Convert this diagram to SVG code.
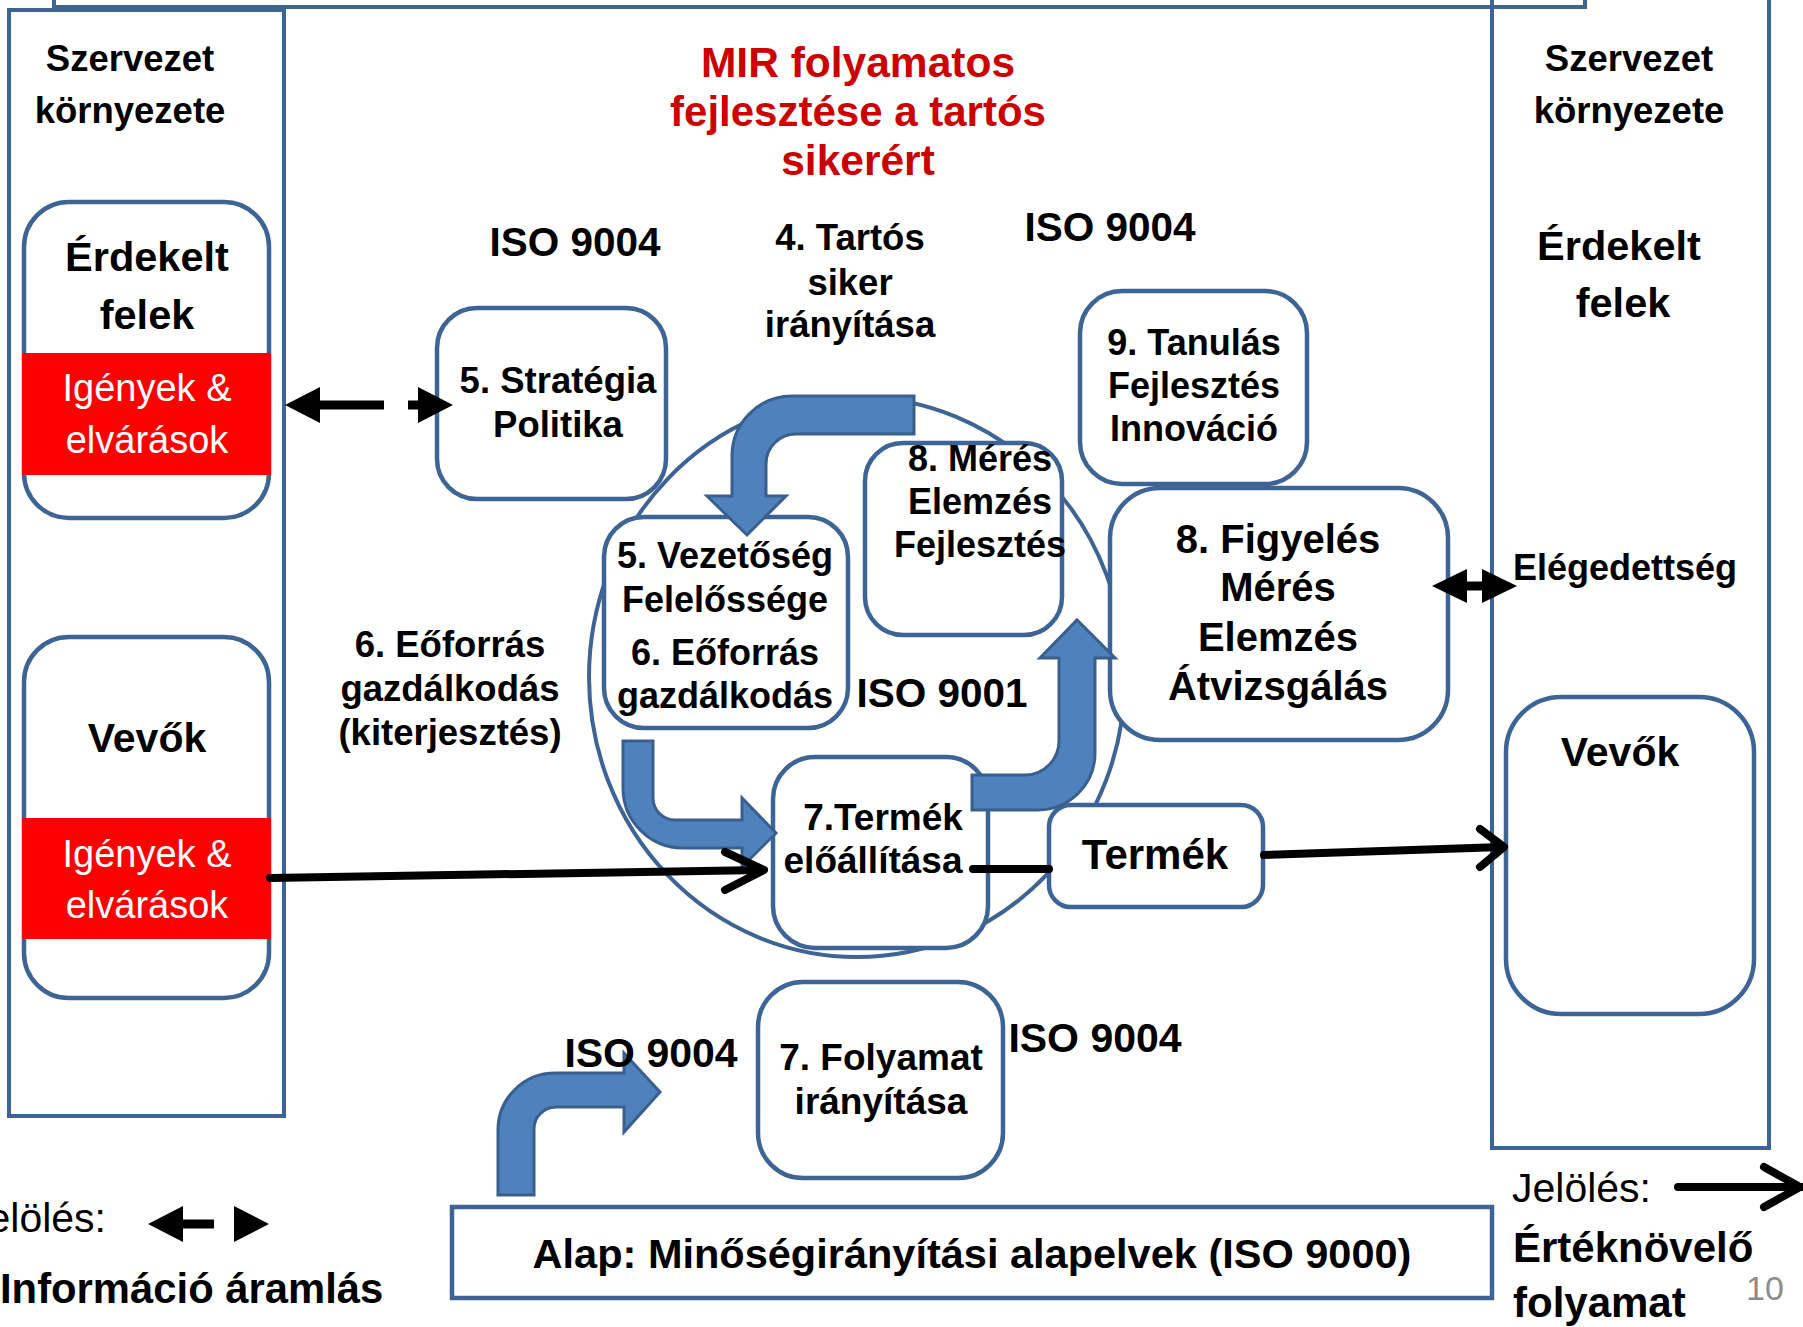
<svg xmlns="http://www.w3.org/2000/svg" width="1803" height="1327" viewBox="0 0 1803 1327">
<defs>
<style>
.t{font-family:"Liberation Sans",Arial,sans-serif;font-weight:bold;text-anchor:middle;fill:#000}
.r{font-family:"Liberation Sans",Arial,sans-serif;font-weight:normal;fill:#000}
.w{font-family:"Liberation Sans",Arial,sans-serif;font-weight:normal;text-anchor:middle;fill:#fff;font-size:38px}
.box{fill:#fff;stroke:#3E6496;stroke-width:4.5}
.panel{fill:none;stroke:#3E6496;stroke-width:4}
.blue{fill:#4F81BD;stroke:#3A5F8E;stroke-width:3;stroke-linejoin:miter}
.band{fill:#FF0000}
.info{stroke:#000;stroke-width:9;fill:none}
.flow{stroke:#000;stroke-width:8;fill:none;stroke-linecap:round;stroke-linejoin:round}
</style>
<marker id="tri" markerUnits="userSpaceOnUse" markerWidth="40" markerHeight="40" viewBox="0 -20 40 40" refX="0" refY="0" orient="auto-start-reverse">
<path d="M0,-18 L35,0 L0,18 Z" fill="#000"/>
</marker>
<marker id="tri2" markerUnits="userSpaceOnUse" markerWidth="40" markerHeight="40" viewBox="0 -20 40 40" refX="0" refY="0" orient="auto-start-reverse">
<path d="M0,-17 L35,0 L0,17 Z" fill="#000"/>
</marker>
</defs>
<rect width="1803" height="1327" fill="#fff"/>

<g id="frames">
<rect class="panel" x="54" y="-60" width="1531" height="67"/>
<rect class="panel" x="9" y="10" width="275" height="1106"/>
<rect class="panel" x="1492" y="-20" width="277" height="1168"/>
</g>

<g id="cycle">
<ellipse cx="857" cy="677" rx="268" ry="280" fill="none" stroke="#3E6496" stroke-width="4"/>
</g>

<g id="node-erdekelt-left">
<rect class="box" x="24" y="202" width="245" height="316" rx="45"/>
<rect class="band" x="22" y="353" width="249" height="122"/>
<text class="t" font-size="41.5"><tspan x="147" y="271">Érdekelt</tspan><tspan x="147" y="329">felek</tspan></text>
<text class="w"><tspan x="147" y="401">Igények &amp;</tspan><tspan x="147" y="453">elvárások</tspan></text>
</g>

<g id="node-vevok-left">
<rect class="box" x="24" y="637" width="245" height="361" rx="45"/>
<rect class="band" x="22" y="818" width="249" height="121"/>
<text class="t" font-size="41" x="147" y="752">Vevők</text>
<text class="w"><tspan x="147" y="867">Igények &amp;</tspan><tspan x="147" y="918">elvárások</tspan></text>
</g>

<g id="node-strategia">
<rect class="box" x="437" y="308" width="229" height="191" rx="40"/>
<text class="t" font-size="36.5"><tspan x="558" y="393">5. Stratégia</tspan><tspan x="558" y="437">Politika</tspan></text>
</g>

<g id="node-vezetoseg">
<rect class="box" x="604" y="517" width="244" height="211" rx="40"/>
<text class="t" font-size="36"><tspan x="725" y="568">5. Vezetőség</tspan><tspan x="725" y="612">Felelőssége</tspan><tspan x="725" y="665">6. Eőforrás</tspan><tspan x="725" y="708">gazdálkodás</tspan></text>
</g>

<g id="node-meres">
<rect class="box" x="865" y="443" width="197" height="192" rx="38"/>
<text class="t" font-size="36"><tspan x="980" y="471">8. Mérés</tspan><tspan x="980" y="514">Elemzés</tspan><tspan x="980" y="557">Fejlesztés</tspan></text>
</g>

<g id="node-tanulas">
<rect class="box" x="1080" y="291" width="227" height="193" rx="42"/>
<text class="t" font-size="36"><tspan x="1194" y="355">9. Tanulás</tspan><tspan x="1194" y="398">Fejlesztés</tspan><tspan x="1194" y="441">Innováció</tspan></text>
</g>

<g id="node-figyeles">
<rect class="box" x="1110" y="488" width="338" height="252" rx="50"/>
<text class="t" font-size="40"><tspan x="1278" y="553">8. Figyelés</tspan><tspan x="1278" y="601">Mérés</tspan><tspan x="1278" y="651">Elemzés</tspan><tspan x="1278" y="700">Átvizsgálás</tspan></text>
</g>

<g id="node-termek-eloallitas">
<rect class="box" x="773" y="757" width="215" height="191" rx="42"/>
<text class="t" font-size="37"><tspan x="883" y="830">7.Termék</tspan><tspan x="873" y="873">előállítása</tspan></text>
</g>

<g id="node-termek">
<rect class="box" x="1049" y="805" width="214" height="102" rx="22"/>
<text class="t" font-size="42" x="1155" y="869">Termék</text>
</g>

<g id="node-vevok-right">
<rect class="box" x="1506" y="697" width="248" height="317" rx="55"/>
<text class="t" font-size="41" x="1620" y="766">Vevők</text>
</g>

<g id="node-folyamat">
<rect class="box" x="758" y="982" width="245" height="196" rx="45"/>
<text class="t" font-size="37"><tspan x="881" y="1070">7. Folyamat</tspan><tspan x="881" y="1114">irányítása</tspan></text>
</g>

<g id="node-alap">
<rect class="box" x="452" y="1207" width="1040" height="91"/>
<text class="t" font-size="41.5" x="972" y="1268">Alap: Minőségirányítási alapelvek (ISO 9000)</text>
</g>

<g id="connectors">
<path class="blue" d="M914,396 L792,396 A60,60 0 0 0 732,456 L732,496 L707,496 L747,535 L786,496 L766,496 L766,464 A30,30 0 0 1 796,434 L914,434 Z"/>
<path class="blue" d="M623,741 L653,741 L653,798 A22,22 0 0 0 675,820 L742,820 L742,798 L776,833 L742,867 L742,848 L683,848 A60,60 0 0 1 623,788 Z"/>
<path class="blue" d="M972,775 L1025,775 A34,34 0 0 0 1059,741 L1059,658 L1040,658 L1077,620 L1115,658 L1095,658 L1095,753 A57,57 0 0 1 1038,810 L972,810 Z"/>
<path class="blue" d="M498,1195 L498,1130 A57,57 0 0 1 555,1073 L624,1073 L624,1053 L660,1092 L624,1132 L624,1107 L556,1107 A22,22 0 0 0 534,1129 L534,1195 Z"/>
<line class="info" x1="320" y1="405" x2="418" y2="405" stroke-width="8" stroke-dasharray="64 24" marker-start="url(#tri)" marker-end="url(#tri)"/>
<line class="info" x1="1467" y1="586" x2="1482" y2="586" stroke-width="10" marker-start="url(#tri2)" marker-end="url(#tri2)"/>
<line class="info" x1="183" y1="1224" x2="234" y2="1224" stroke-width="9" stroke-dasharray="31 20" marker-start="url(#tri)" marker-end="url(#tri)"/>
<path class="flow" d="M270,878 L762,870" stroke-linecap="butt"/>
<path class="flow" d="M725,852 L764,870 L725,890"/>
<path class="flow" d="M973,869 L1049,869" stroke-linecap="butt"/>
<path class="flow" d="M1264,855 L1502,847" stroke-linecap="butt"/>
<path class="flow" d="M1480,829 L1504,847 L1480,867"/>
<path class="flow" d="M1678,1187 L1803,1187" stroke-linecap="butt"/>
<path class="flow" d="M1764,1167 L1800,1187 L1764,1207"/>
</g>

<g id="labels">
<text class="t" font-size="36.5"><tspan x="130" y="71">Szervezet</tspan><tspan x="130" y="123">környezete</tspan></text>
<text class="t" font-size="36.5"><tspan x="1629" y="71">Szervezet</tspan><tspan x="1629" y="123">környezete</tspan></text>
<text class="t" font-size="42.5" style="fill:#CC0000"><tspan x="858" y="77">MIR folyamatos</tspan><tspan x="858" y="126" font-size="42">fejlesztése a tartós</tspan><tspan x="858" y="175">sikerért</tspan></text>
<text class="t" font-size="40.5" x="575" y="256">ISO 9004</text>
<text class="t" font-size="36.5"><tspan x="850" y="250">4. Tartós</tspan><tspan x="850" y="295">siker</tspan><tspan x="850" y="337">irányítása</tspan></text>
<text class="t" font-size="40.5" x="1110" y="241">ISO 9004</text>
<text class="t" font-size="41.5"><tspan x="1619" y="260">Érdekelt</tspan><tspan x="1623" y="317">felek</tspan></text>
<text class="t" font-size="36.5"><tspan x="450" y="657">6. Eőforrás</tspan><tspan x="450" y="701">gazdálkodás</tspan><tspan x="450" y="745">(kiterjesztés)</tspan></text>
<text class="t" font-size="40.5" x="942" y="707">ISO 9001</text>
<text class="t" font-size="36" x="1625" y="580">Elégedettség</text>
<text class="t" font-size="41" x="651" y="1067">ISO 9004</text>
<text class="t" font-size="41" x="1095" y="1052">ISO 9004</text>
<text class="r" font-size="41" x="106" y="1232" text-anchor="end">Jelölés:</text>
<text class="t" font-size="41.8" x="0" y="1303" style="text-anchor:start">Információ áramlás</text>
<text class="r" font-size="41" x="1512" y="1202">Jelölés:</text>
<text class="t" font-size="42" style="text-anchor:start"><tspan x="1513" y="1262">Értéknövelő</tspan><tspan x="1513" y="1317">folyamat</tspan></text>
<text class="r" font-size="34" x="1765" y="1300" text-anchor="middle" style="fill:#8C8C8C">10</text>
</g>
</svg>
